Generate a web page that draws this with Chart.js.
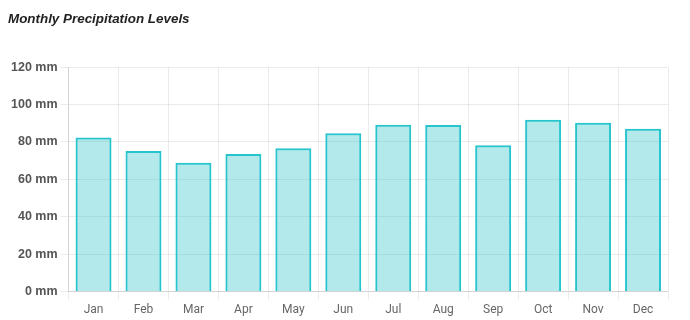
<!DOCTYPE html>
<html>
<head>
<meta charset="utf-8">
<script src="https://cdn.jsdelivr.net/npm/chart.js@4"></script>
<style>
html,body{margin:0;padding:0;background:#fff;}
#wrap{width:690px;height:320px;position:relative;}
</style>
</head>
<body>
<div id="wrap"><canvas id="c"></canvas></div>
<script>
const months = ['Jan','Feb','Mar','Apr','May','Jun','Jul','Aug','Sep','Oct','Nov','Dec'];
const precipitation = [82.4, 75.2, 68.9, 73.6, 76.6, 84.7, 89.2, 89.1, 78.2, 91.8, 90.3, 87.0];
const chartTitle = 'Monthly Precipitation Levels';

new Chart(document.getElementById('c'), {
  type: 'bar',
  data: {
    labels: months,
    datasets: [{
      label: 'Precipitation',
      data: precipitation,
      backgroundColor: 'rgba(38,192,198,0.35)',
      borderColor: 'rgb(38,196,204)',
      borderWidth: 2
    }]
  },
  options: {
    responsive: true,
    maintainAspectRatio: false,
    animation: false,
    layout: { padding: { left: 8, right: 22, top: 6, bottom: 0 } },
    plugins: {
      legend: { display: false },
      title: {
        display: true,
        text: chartTitle,
        align: 'start',
        color: '#222',
        font: { family: 'Liberation Sans, Arial, sans-serif', size: 13.4, weight: 'bold', style: 'italic' },
        padding: { top: 5, bottom: 40 }
      }
    },
    scales: {
      x: {
        grid: { color: 'rgba(0,0,0,0.08)' },
        ticks: { color: '#666', font: { family: 'Roboto, sans-serif', size: 12 } }
      },
      y: {
        min: 0, max: 120,
        ticks: {
          stepSize: 20,
          color: '#555',
          font: { family: 'Liberation Sans, Arial, sans-serif', size: 12.5, weight: 'bold' },
          callback: v => v + ' mm'
        },
        grid: { color: 'rgba(0,0,0,0.08)' }
      }
    }
  }
});
</script>
</body>
</html>
